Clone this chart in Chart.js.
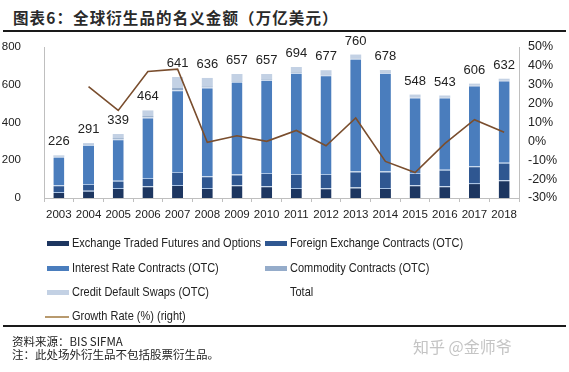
<!DOCTYPE html>
<html>
<head>
<meta charset="utf-8">
<script src="https://cdn.jsdelivr.net/npm/chart.js@4/dist/chart.umd.min.js"></script>
<style>
  html, body { margin: 0; padding: 0; background: #fff; }
  body { width: 569px; height: 372px; position: relative; overflow: hidden; font-family: 'Liberation Sans', sans-serif; color: #222; }
  #title { position: absolute; left: 13px; top: 6px; font-family: 'Noto Sans CJK SC', sans-serif; font-weight: bold; font-size: 15.5px; color: #2a2a2a; white-space: nowrap; letter-spacing: 1.1px; }
  .rule { position: absolute; left: 3px; width: 563px; height: 2px; background: #1a1a1a; }
  #wrap { position: absolute; left: 0; top: 0; width: 569px; height: 230px; }
  #legend { position: absolute; left: 0; top: 0; width: 569px; height: 372px; pointer-events: none; }
  .li { position: absolute; font-size: 12.8px; white-space: nowrap; line-height: 14px; color: #222; transform: scaleX(0.86); transform-origin: 0 50%; }
  .sw { position: absolute; }
  .foot { position: absolute; left: 12px; font-family: 'Noto Sans CJK SC', sans-serif; font-size: 11.5px; color: #222; white-space: nowrap; }
  #wm { position: absolute; left: 413px; top: 334px; font-family: 'Noto Sans CJK SC', sans-serif; font-size: 16px; color: #c4c4c4; white-space: nowrap; }
</style>
</head>
<body>
<div id="title">图表6：全球衍生品的名义金额（万亿美元）</div>
<div class="rule" style="top:30px"></div>
<div id="wrap"><canvas id="c" width="569" height="230"></canvas></div>
<div id="legend"></div>
<div class="rule" style="top:325px"></div>
<div class="foot" style="top:333px">资料来源：BIS SIFMA</div>
<div class="foot" style="top:346px">注：此处场外衍生品不包括股票衍生品。</div>
<div id="wm">知乎 @金师爷</div>
<script>
const years = ['2003','2004','2005','2006','2007','2008','2009','2010','2011','2012','2013','2014','2015','2016','2017','2018'];
const exchangeTraded = [32, 39, 53, 62, 69, 53, 67, 62, 53, 51, 55, 53, 67, 62, 79, 94];
const foreignExchange = [35, 35, 39, 44, 69, 62, 57, 70, 74, 76, 86, 88, 65, 88, 89, 93];
const interestRate = [152, 207, 219, 321, 433, 471, 492, 493, 535, 523, 597, 521, 401, 382, 428, 435];
const commodity = [2, 2, 6, 7, 12, 5, 3, 3, 3, 3, 2, 2, 2, 2, 2, 2];
const creditDefault = [5, 8, 22, 30, 58, 45, 38, 29, 29, 24, 20, 14, 13, 9, 8, 8];
const totals = [226, 291, 339, 464, 641, 636, 657, 657, 694, 677, 760, 678, 548, 543, 606, 632];
const growthRate = [null, 29, 16.4, 37, 38.3, -0.5, 3, 0, 5.8, -2.3, 12.4, -10.6, -16.5, -1.2, 11.5, 4.8];
const leftTicks = [0, 200, 400, 600, 800];
const rightTicks = [-30, -20, -10, 0, 10, 20, 30, 40, 50];

const FONT = "'Liberation Sans', sans-serif";
Chart.defaults.font.family = FONT;
Chart.defaults.color = '#222';

const sep = '#a9c3e4';
const barCommon = { stack: 's', yAxisID: 'y', barPercentage: 0.37, categoryPercentage: 1, borderColor: sep, borderSkipped: false, order: 2 };

const series = [
  { label: 'Exchange Traded Futures and Options', data: exchangeTraded, backgroundColor: '#1d3660', borderWidth: {top: 1, left: 0, right: 0, bottom: 0} },
  { label: 'Foreign Exchange Contracts (OTC)', data: foreignExchange, backgroundColor: '#2f5791', borderWidth: {top: 1, left: 0, right: 0, bottom: 0} },
  { label: 'Interest Rate Contracts (OTC)', data: interestRate, backgroundColor: '#4a7dbd', borderWidth: {top: 1, left: 0, right: 0, bottom: 0}, borderColor: '#c9d9ee' },
  { label: 'Commodity Contracts (OTC)', data: commodity, backgroundColor: '#95acca', borderWidth: 0 },
  { label: 'Credit Default Swaps (OTC)', data: creditDefault, backgroundColor: '#c3d1e4', borderWidth: 0 },
].map(s => Object.assign({}, barCommon, s, { type: 'bar' }));

const datasets = series.concat([
  { type: 'line', label: 'Total', data: totals, yAxisID: 'y', showLine: false, pointRadius: 0, borderColor: 'transparent', backgroundColor: 'transparent', order: 1 },
  { type: 'line', label: 'Growth Rate (%) (right)', data: growthRate, yAxisID: 'y1', borderColor: '#7a4e2e', borderWidth: 1.6, pointRadius: 0, tension: 0, fill: false, order: 0, spanGaps: false },
]);

const totalLabels = {
  id: 'totalLabels',
  afterDatasetsDraw(chart) {
    const ctx = chart.ctx;
    const idx = chart.data.datasets.findIndex(d => d.label === 'Total');
    const meta = chart.getDatasetMeta(idx);
    ctx.save();
    ctx.font = '13px ' + FONT;
    ctx.fillStyle = '#222';
    ctx.textAlign = 'center';
    ctx.textBaseline = 'alphabetic';
    meta.data.forEach((pt, i) => {
      ctx.fillText(String(totals[i]), pt.x, pt.y - 10);
    });
    ctx.restore();
  }
};

new Chart(document.getElementById('c'), {
  data: { labels: years, datasets },
  options: {
    responsive: false,
    animation: false,
    layout: { padding: { top: 47, bottom: 0, left: 0, right: 0 } },
    plugins: { legend: { display: false }, tooltip: { enabled: false } },
    scales: {
      x: {
        stacked: true,
        offset: true,
        grid: { display: true, drawOnChartArea: false, drawTicks: true, tickLength: 4, color: '#bfbfbf', offset: true },
        border: { display: true, color: '#bfbfbf' },
        ticks: { font: { size: 11.5 }, color: '#222', padding: 6, maxRotation: 0, autoSkip: false },
        afterFit(s) { s.height = 32; }
      },
      y: {
        stacked: true,
        position: 'left',
        min: 0, max: 800,
        afterBuildTicks(s) { s.ticks = leftTicks.map(v => ({ value: v })); },
        grid: { display: false, drawTicks: false },
        border: { display: true, color: '#bfbfbf' },
        ticks: { font: { size: 11.5 }, color: '#222', padding: 23 },
        afterFit(s) { s.width = 44; }
      },
      y1: {
        position: 'right',
        min: -30, max: 50,
        afterBuildTicks(s) { s.ticks = rightTicks.map(v => ({ value: v })); },
        grid: { display: false, drawTicks: false },
        border: { display: true, color: '#bfbfbf' },
        ticks: { font: { size: 12.5 }, color: '#222', padding: 9, callback: v => v + '%' },
        afterFit(s) { s.width = 50; }
      }
    }
  },
  plugins: [totalLabels]
});

// HTML legend built from the dataset labels/colors
const legend = document.getElementById('legend');
const items = [
  { ds: 0, x: 47, y: 243 }, { ds: 1, x: 265, y: 243 },
  { ds: 2, x: 47, y: 268 }, { ds: 3, x: 265, y: 268 },
  { ds: 4, x: 47, y: 292 }, { ds: 5, x: 265, y: 292 },
  { ds: 6, x: 47, y: 316 }
];
items.forEach(it => {
  const d = datasets[it.ds];
  if (d.type === 'bar') {
    const sw = document.createElement('div');
    sw.className = 'sw';
    sw.style.cssText = `left:${it.x}px;top:${it.y - 2}px;width:22px;height:5px;background:${d.backgroundColor};`;
    legend.appendChild(sw);
  } else if (d.label.startsWith('Growth')) {
    const sw = document.createElement('div');
    sw.className = 'sw';
    sw.style.cssText = `left:${it.x - 2}px;top:${it.y}px;width:24px;height:1.5px;background:#b89a6e;`;
    legend.appendChild(sw);
  }
  const t = document.createElement('div');
  t.className = 'li';
  t.textContent = d.label;
  t.style.left = (it.x + 25) + 'px';
  t.style.top = (it.y - 7) + 'px';
  legend.appendChild(t);
});
</script>
</body>
</html>
